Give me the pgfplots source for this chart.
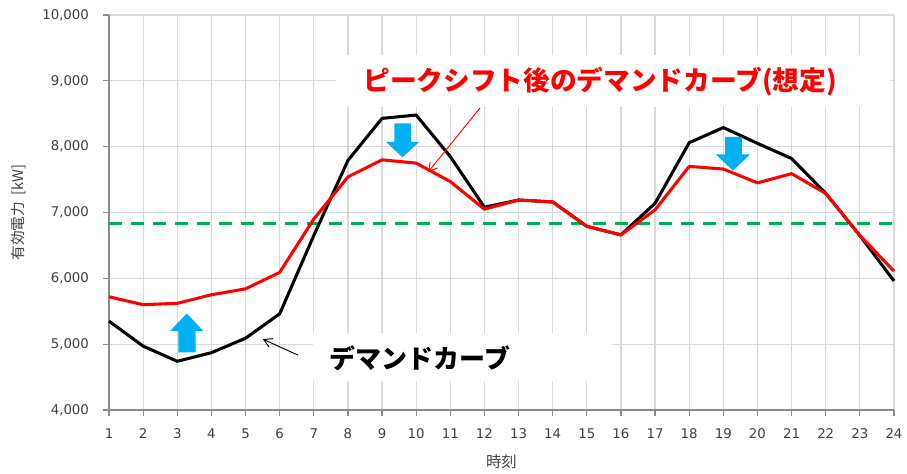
\documentclass[border=0pt]{standalone}
\usepackage{pgfplots}
\pgfplotsset{compat=1.18}
\usetikzlibrary{arrows.meta}
\usepackage{fontspec}
\setmainfont{DejaVu Sans}
\newfontfamily\jp{Noto Sans CJK JP}
\definecolor{gridgray}{HTML}{D9D9D9}
\definecolor{axgray}{HTML}{8C8C8C}
\definecolor{tickcol}{HTML}{404040}
\definecolor{xlgreen}{HTML}{00B050}
\definecolor{xlblue}{HTML}{00B0F0}
\pgfplotstableread{
x black red
1 5350 5720
2 4970 5600
3 4740 5620
4 4870 5750
5 5090 5840
6 5460 6090
7 6650 6900
8 7790 7540
9 8430 7800
10 8480 7750
11 7850 7470
12 7080 7050
13 7190 7190
14 7160 7160
15 6790 6790
16 6660 6660
17 7140 7040
18 8060 7700
19 8290 7660
20 8050 7450
21 7820 7590
22 7290 7290
23 6650 6650
24 5960 6110
}\demand
\begin{document}
\begin{tikzpicture}
\path[use as bounding box] (-81.75pt,-48pt) rectangle (598.5pt,307.5pt);
\begin{axis}[
  scale only axis,
  width=588.75pt, height=296.25pt,
  xmin=1, xmax=24, ymin=4000, ymax=10000,
  xtick={1,...,24},
  ytick={4000,5000,...,10000},
  scaled y ticks=false,
  grid=major,
  grid style={gridgray, line width=0.9pt},
  axis lines*=left,
  axis line style={axgray, line width=0.9pt},
  tick align=outside,
  major tick length=4.5pt,
  tick style={axgray, line width=0.9pt},
  ticklabel style={font=\fontsize{10}{12}\selectfont, text=tickcol},
  xticklabel style={yshift=-6pt},
  yticklabel style={xshift=-7pt},
  /pgf/number format/.cd, 1000 sep={,}, assume math mode=true,
  /pgfplots/.cd,
  xlabel={\jp 時刻},
  ylabel={\jp 有効電力\hspace{0.45em}[kW]},
  xlabel style={font=\fontsize{11.5}{13}\selectfont, text=tickcol, at={(axis description cs:0.5,0)}, anchor=center, yshift=-39pt},
  ylabel style={font=\fontsize{11}{13}\selectfont, text=tickcol, at={(axis description cs:0,0.5)}, anchor=center, yshift=68pt},
  clip=false,
]
\addplot[xlgreen, line width=2.6pt, dash pattern=on 9.5pt off 7pt] coordinates {(1,6830) (24,6830)};
\addplot[black, line width=2.3pt, line join=round] table[x=x, y=black] {\demand};
\addplot[red, line width=2.3pt, line join=round] table[x=x, y=red] {\demand};
% blue arrows
\fill[xlblue] (axis cs:3.03,4874) -- (axis cs:3.54,4874) -- (axis cs:3.54,5202) -- (axis cs:3.76,5202) -- (axis cs:3.28,5466) -- (axis cs:2.79,5202) -- (axis cs:3.03,5202) -- cycle;
\fill[xlblue] (axis cs:9.36,8354) -- (axis cs:9.85,8354) -- (axis cs:9.85,8074) -- (axis cs:10.09,8074) -- (axis cs:9.60,7837) -- (axis cs:9.116,8074) -- (axis cs:9.36,8074) -- cycle;
\fill[xlblue] (axis cs:19.05,8150) -- (axis cs:19.54,8150) -- (axis cs:19.54,7883) -- (axis cs:19.78,7883) -- (axis cs:19.28,7634) -- (axis cs:18.785,7883) -- (axis cs:19.05,7883) -- cycle;
% text boxes
\node[fill=white, minimum width=415pt, minimum height=39pt, inner sep=0pt] at (axis cs:15.77,8997) {};
\node[text=red, font=\jp\bfseries\fontsize{20}{24}\selectfont, inner sep=0pt] at (axis cs:15.39,8982) {ピークシフト後のデマンドカーブ(想定)};
\node[fill=white, minimum width=224pt, minimum height=36pt, inner sep=0pt] at (axis cs:11.36,4802) {};
\node[text=black, font=\jp\bfseries\fontsize{19.5}{24}\selectfont, inner sep=0pt] at (axis cs:10.11,4787) {デマンドカーブ};
% thin pointer arrows
\draw[red, line width=0.7pt, -{Straight Barb[length=6pt, width=7pt]}] (axis cs:11.87,8587) -- (axis cs:10.35,7614);
\draw[black, line width=0.7pt, -{Straight Barb[length=6pt, width=7pt]}] (axis cs:6.54,4833) -- (axis cs:5.51,5076);
\end{axis}
\end{tikzpicture}
\end{document}
